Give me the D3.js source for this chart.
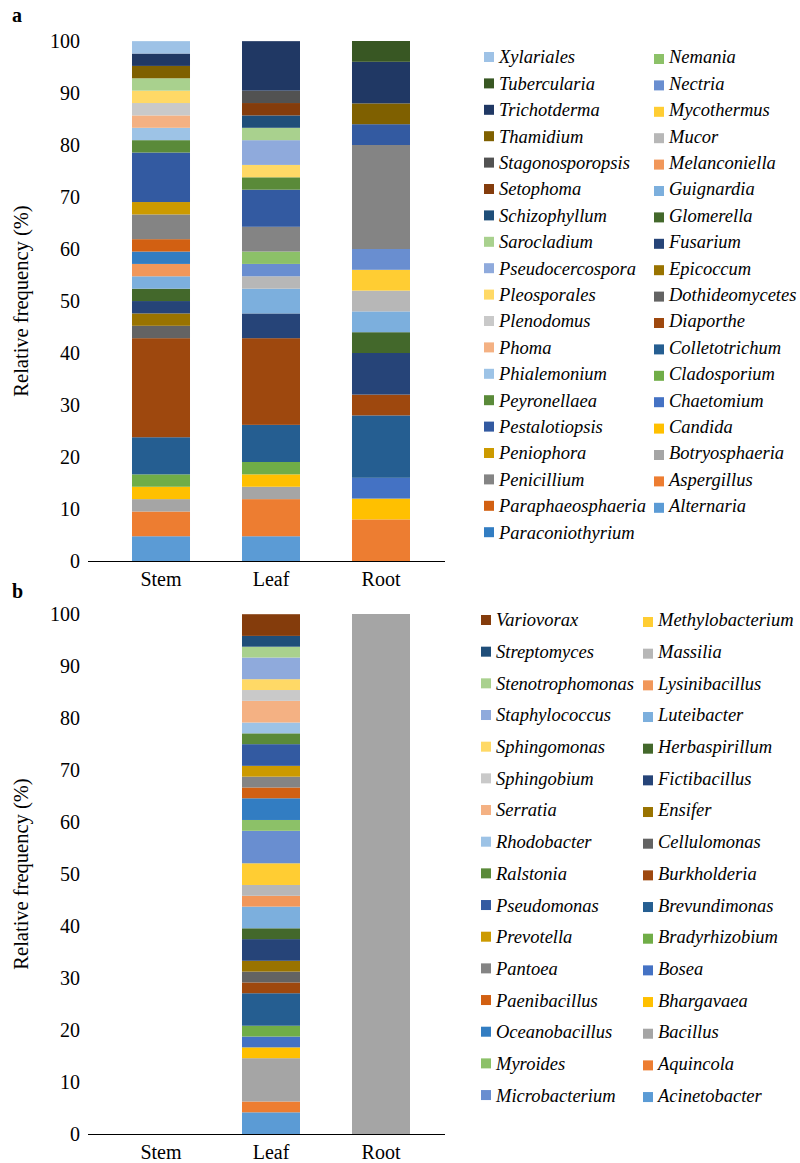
<!DOCTYPE html>
<html><head><meta charset="utf-8">
<script src="https://cdn.jsdelivr.net/npm/d3@7"></script>
<style>body{margin:0;background:#fff}svg{display:block}</style>
</head><body>
<svg id="c" width="800" height="1163"></svg>
<script>
const categories = ["Stem", "Leaf", "Root"];
const yTicks = [0,10,20,30,40,50,60,70,80,90,100];

const fungiGenera = ["Alternaria","Aspergillus","Botryosphaeria","Candida","Chaetomium","Cladosporium","Colletotrichum","Diaporthe","Dothideomycetes","Epicoccum","Fusarium","Glomerella","Guignardia","Melanconiella","Mucor","Mycothermus","Nectria","Nemania","Paraconiothyrium","Paraphaeosphaeria","Penicillium","Peniophora","Pestalotiopsis","Peyronellaea","Phialemonium","Phoma","Plenodomus","Pleosporales","Pseudocercospora","Sarocladium","Schizophyllum","Setophoma","Stagonosporopsis","Thamidium","Trichotderma","Tubercularia","Xylariales"];
const fungiStem = [4.76,4.76,2.38,2.38,0,2.38,7.14,19.05,2.38,2.38,2.38,2.38,2.38,2.38,0,0,0,0,2.38,2.38,4.76,2.38,9.52,2.38,2.38,2.38,2.38,2.38,0,2.38,0,0,0,2.38,2.38,0,2.38];
const fungiLeaf = [4.76,7.14,2.38,2.38,0,2.38,7.14,16.67,0,0,4.76,0,4.76,0,2.38,0,2.38,2.38,0,0,4.76,0,7.14,2.38,0,0,0,2.38,4.76,2.38,2.38,2.38,2.38,0,9.52,0,0];
const fungiRoot = [0,8,0,4,4,0,12,4,0,0,8,4,4,0,4,4,4,0,0,0,20,0,4,0,0,0,0,0,0,0,0,0,0,4,8,4,0];

const bacteriaGenera = ["Acinetobacter","Aquincola","Bacillus","Bhargavaea","Bosea","Bradyrhizobium","Brevundimonas","Burkholderia","Cellulomonas","Ensifer","Fictibacillus","Herbaspirillum","Luteibacter","Lysinibacillus","Massilia","Methylobacterium","Microbacterium","Myroides","Oceanobacillus","Paenibacillus","Pantoea","Prevotella","Pseudomonas","Ralstonia","Rhodobacter","Serratia","Sphingobium","Sphingomonas","Staphylococcus","Stenotrophomonas","Streptomyces","Variovorax"];
const bacteriaStem = new Array(32).fill(0);
const bacteriaLeaf = [4.17,2.08,8.33,2.08,2.08,2.08,6.25,2.08,2.08,2.08,4.17,2.08,4.17,2.08,2.08,4.17,6.25,2.08,4.17,2.08,2.08,2.08,4.17,2.08,2.08,4.17,2.08,2.08,4.17,2.08,2.08,4.17];
const bacteriaRoot = [0,0,100,0,0,0,0,0,0,0,0,0,0,0,0,0,0,0,0,0,0,0,0,0,0,0,0,0,0,0,0,0];

const palette = ["#5B9BD5","#ED7D31","#A5A5A5","#FFC000","#4472C4","#70AD47","#255E91","#9E480E","#636363","#997300","#264478","#43682B","#7CAFDD","#F1975A","#B7B7B7","#FFCD33","#698ED0","#8CC168","#327DC2","#D26012","#848484","#CC9A00","#335AA1","#5A8A39","#9DC3E6","#F4B183","#C9C9C9","#FFD966","#8FAADC","#A9D18E","#1F4E79","#843C0C","#525252","#7F6000","#203864","#385723","#9EC2E6"];

const svg = d3.select("#c");
const serif = "Liberation Serif, Times New Roman, serif";

function panel(opt) {
  const g = svg.append("g");
  const genera = opt.genera;
  const rows = categories.map((c, i) => {
    const r = {cat: c};
    genera.forEach((gname, j) => r[gname] = opt.values[i][j]);
    return r;
  });
  const x = d3.scaleBand().domain(categories).range([106, 436]).paddingInner(0.4727).paddingOuter(0.2364);
  const y = d3.scaleLinear().domain([0, 100]).range([opt.y0, opt.y1]);
  const color = d3.scaleOrdinal().domain(genera).range(palette);
  const stack = d3.stack().keys(genera)(rows);

  g.selectAll("g.s").data(stack).join("g").attr("fill", d => color(d.key))
    .selectAll("rect").data(d => d).join("rect")
    .attr("x", d => x(d.data.cat)).attr("width", x.bandwidth())
    .attr("y", d => y(d[1])).attr("height", d => Math.max(0, y(d[0]) - y(d[1])));

  const ya = g.append("g").attr("transform", "translate(88,0)")
    .call(d3.axisLeft(y).tickValues(yTicks).tickSize(0).tickPadding(8));
  ya.select(".domain").remove();
  ya.selectAll("text").attr("font-family", serif).attr("font-size", 20).attr("fill", "#000");

  const xa = g.append("g").attr("transform", `translate(0,${opt.y0})`)
    .call(d3.axisBottom(x).tickSize(0).tickPadding(11));
  xa.select(".domain").attr("stroke", "#000").attr("stroke-width", 1.2).attr("d", "M88,0.5H445");
  xa.selectAll("text").attr("font-family", serif).attr("font-size", 20).attr("fill", "#000");

  g.append("text").attr("transform", `translate(28,${(opt.y0 + opt.y1) / 2}) rotate(-90)`)
    .attr("text-anchor", "middle").attr("font-family", serif).attr("font-size", 20.5)
    .text("Relative frequency (%)");

  g.append("text").attr("x", 12).attr("y", opt.labelY).attr("font-family", serif)
    .attr("font-weight", "bold").attr("font-size", 20).text(opt.label);

  const rev = genera.slice().reverse();
  const nCol1 = Math.ceil(rev.length / 2);
  const lg = g.append("g");
  rev.forEach((name, i) => {
    const col = i < nCol1 ? 0 : 1;
    const row = col === 0 ? i : i - nCol1;
    const lx = opt.legX[col], ly = opt.legY + row * opt.legStep;
    lg.append("rect").attr("x", lx).attr("y", ly - 5 + (col ? 2 : 0)).attr("width", 10).attr("height", 10).attr("fill", color(name));
    lg.append("text").attr("x", lx + 15).attr("y", ly).attr("dy", "0.35em")
      .attr("font-family", serif).attr("font-style", "italic").attr("font-size", 18.5).text(name);
  });
}

panel({genera: fungiGenera, values: [fungiStem, fungiLeaf, fungiRoot], y0: 561, y1: 41, label: "a", labelY: 22,
  legX: [484, 654], legY: 57, legStep: 26.4});
panel({genera: bacteriaGenera, values: [bacteriaStem, bacteriaLeaf, bacteriaRoot], y0: 1134, y1: 614, label: "b", labelY: 598,
  legX: [481, 643], legY: 620, legStep: 31.67});
</script>
</body></html>
